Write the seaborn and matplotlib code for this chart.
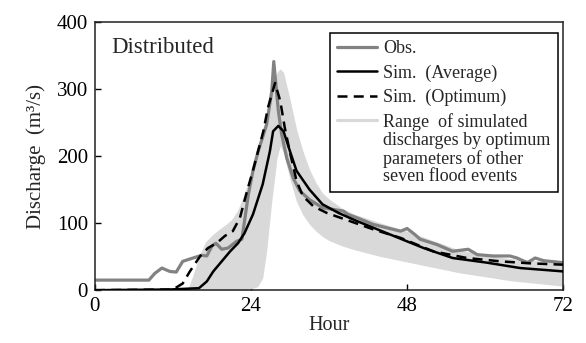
import numpy as np
import pandas as pd
import seaborn as sns
import matplotlib.pyplot as plt
from matplotlib.lines import Line2D
from matplotlib.legend_handler import HandlerLine2D

# ---- values (hour, m3/s) ----
obs_hour = [0, 8.3, 9.2, 10.3, 11.5, 12.5, 13.5, 15.1, 16.4, 17.2, 18, 18.6, 19.5, 20.5,
            21.8, 22.6, 23.6, 24.3, 25.1, 26.4, 27.2, 27.5, 28.2, 28.7, 29.5, 30.5, 31.5,
            33, 35, 38.2, 38.9, 40.3, 42.8, 44.9, 47, 48, 49.2, 50, 52.6, 55, 57.4, 58.8,
            61.2, 63.8, 64.9, 66.5, 67.7, 69, 72]
obs_q = [15, 15, 25, 33, 28, 27, 43, 48, 52, 51, 66, 70, 61, 63,
         73, 76, 143, 178, 207, 247, 297, 341, 268, 233, 197, 167, 148,
         135, 123, 118, 113, 108, 98, 93, 88, 92, 83, 76, 68, 58, 61, 53,
         51, 51, 48, 41, 48, 44, 41]

avg_hour = [0, 11.5, 16, 17.2, 18.2, 19.5, 20.8, 22, 23, 24.3, 25.8, 26.9, 27.4, 28.2,
            29, 30, 31, 33, 35, 37.5, 40.3, 45.4, 50.5, 55, 60.3, 65.4, 72]
avg_q = [0, 1, 3, 13, 28, 43, 58, 70, 85, 113, 158, 207, 237, 245,
         237, 207, 178, 150, 128, 115, 103, 83, 63, 48, 41, 33, 28]

opt_hour = [0, 12, 13.5, 14.6, 16.2, 17.4, 18.7, 20, 21.2, 22.3, 23.4, 24.4, 25.9, 26.6,
            27.7, 28.5, 29.2, 30, 31, 32, 33.6, 35.7, 39.2, 43, 47, 52, 57.2, 62.3, 67, 72]
opt_q = [0, 1, 10, 28, 51, 63, 70, 81, 88, 108, 148, 182, 237, 272,
         309, 282, 242, 205, 163, 140, 125, 115, 103, 90, 78, 58, 48, 43, 40, 38]

# range of the other seven parameter sets
band_hour = [0, 14.3, 15, 16, 17, 18, 19, 20, 21, 22, 23, 24, 25, 25.8, 26.4, 27.2, 28,
             28.5, 29, 30, 31, 32, 33, 34, 35, 36, 38, 40, 44, 48, 52, 56, 60, 64, 68, 72]
band_lo = [0, 0, 0, 0, 0, 0, 0, 0, 0, 0, 0, 2, 5, 18, 58, 133, 197,
           215, 205, 165, 132, 112, 98, 88, 80, 74, 66, 60, 50, 42, 34, 26, 20, 14, 10, 6]
band_hi = [0, 2, 20, 50, 72, 82, 90, 97, 105, 120, 145, 175, 205, 240, 262, 300, 325,
           330, 325, 285, 240, 207, 180, 160, 145, 136, 122, 113, 100, 88, 74, 60, 52, 47, 44, 42]


class FirstLineHandler(HandlerLine2D):
    # put the legend line next to the first row of a multi-line label
    def create_artists(self, legend, orig_handle, xdescent, ydescent, width, height, fontsize, trans):
        arts = super().create_artists(legend, orig_handle, xdescent, ydescent,
                                      width, height, fontsize, trans)
        for a in arts:
            a.set_ydata(np.asarray(a.get_ydata(), dtype=float) + 1.65 * fontsize)
        return arts


sns.set_style("ticks")
plt.rcParams['font.family'] = ['Liberation Serif', 'DejaVu Serif']

fig, ax = plt.subplots(figsize=(5.86, 3.43), dpi=100)
fig.subplots_adjust(left=0.162, right=0.961, bottom=0.154, top=0.936)

ax.fill_between(band_hour, band_lo, band_hi, color='#d9d9d9', lw=0, zorder=1)

obs = pd.DataFrame({'Hour': obs_hour, 'Q': obs_q})
avg = pd.DataFrame({'Hour': avg_hour, 'Q': avg_q})
opt = pd.DataFrame({'Hour': opt_hour, 'Q': opt_q})

sns.lineplot(data=obs, x='Hour', y='Q', color='#828282', lw=2.3, ax=ax, zorder=2)
sns.lineplot(data=avg, x='Hour', y='Q', color='black', lw=1.8, ax=ax, zorder=3)
sns.lineplot(data=opt, x='Hour', y='Q', color='black', lw=1.8, ls=(0, (4, 2.5)), ax=ax, zorder=4)

ax.set_xlim(0, 72)
ax.set_ylim(0, 400)
ax.set_xticks([0, 24, 48, 72])
ax.set_yticks([0, 100, 200, 300, 400])
ax.tick_params(direction='in', length=4, width=1, labelsize=15, pad=5, colors='black')
for s in ax.spines.values():
    s.set_linewidth(1.1)
    s.set_color('#222222')

ax.set_xlabel('Hour', fontsize=14.5, labelpad=0)
ax.set_ylabel('Discharge  (m³/s)', fontsize=15, labelpad=8)

ax.text(0.034, 0.945, 'Distributed', transform=ax.transAxes, va='top', ha='left', fontsize=16.5)

handles = [Line2D([], [], color='#828282', lw=2.3),
           Line2D([], [], color='black', lw=1.8),
           Line2D([], [], color='black', lw=1.8, ls=(0, (4, 2.5))),
           Line2D([], [], color='#d9d9d9', lw=2.3)]
labels = ['Obs.', 'Sim.  (Average)', 'Sim.  (Optimum)',
          'Range  of simulated\ndischarges by optimum\nparameters of other\nseven flood events']
leg = ax.legend(handles, labels, loc='upper right', bbox_to_anchor=(0.989, 0.959),
                borderaxespad=0, fontsize=13, frameon=True, fancybox=False,
                edgecolor='black', framealpha=1, handlelength=2.2, handletextpad=0.35,
                labelspacing=0.4, borderpad=0.4,
                handler_map={handles[3]: FirstLineHandler()})
leg.get_frame().set_linewidth(1.1)
for t in leg.get_texts():
    t.set_linespacing(1.05)

fig.savefig('out.png', dpi=100)
